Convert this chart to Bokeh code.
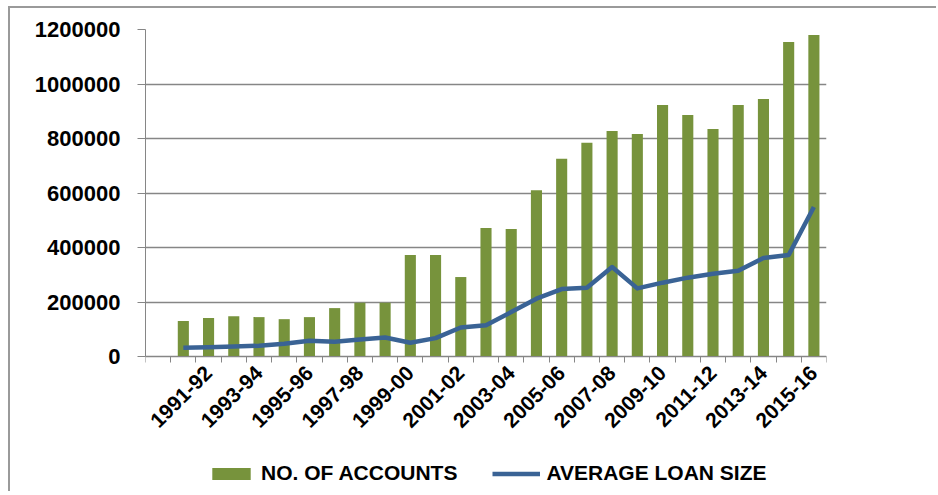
from math import pi
import numpy as np
from bokeh.plotting import figure
from bokeh.models import Range1d, FixedTicker, Legend, LegendItem, NumeralTickFormatter
from bokeh.embed import file_html
from bokeh.resources import INLINE

# ---- data ----
years = ["1990-91", "1991-92", "1992-93", "1993-94", "1994-95", "1995-96",
         "1996-97", "1997-98", "1998-99", "1999-00", "2000-01", "2001-02",
         "2002-03", "2003-04", "2004-05", "2005-06", "2006-07", "2007-08",
         "2008-09", "2009-10", "2010-11", "2011-12", "2012-13", "2013-14",
         "2014-15", "2015-16"]
accounts = [130000, 141000, 148000, 144500, 137000, 144500, 177600, 197400,
            197400, 372400, 372400, 291600, 471700, 468000, 610300, 725400,
            784200, 827200, 816200, 922800, 886000, 834600, 922800, 944900,
            1154400, 1180000]
avg_loan = [32000, 34200, 36800, 39300, 46700, 57700, 54000, 62500, 69900,
            50400, 67300, 106500, 115100, 162900, 212100, 247400, 252500,
            328300, 250000, 270900, 289300, 304000, 315000, 361400, 372400,
            548900]
y_ticks = [0, 200000, 400000, 600000, 800000, 1000000, 1200000]
tick_labels = years[1::2]

GREEN = "#77933C"
BLUE = "#3A6395"
GRID = "#868686"
FONT = "Liberation Sans"

# layout (pixels)
W, H = 928, 485
LEFT, RIGHT, TOP, BOTTOM = 135, 112, 21, 2
PLOT_PX = 327          # pixels from y=0 to the top tick
frame_h = H - TOP - BOTTOM
y_low = -y_ticks[-1] * (frame_h - PLOT_PX) / PLOT_PX

# one empty category slot before the first year
n_slots = len(years) + 1
x = np.arange(2, n_slots + 1)

p = figure(width=W, height=H, output_backend="svg", toolbar_location=None,
           x_range=Range1d(0.5, n_slots + 0.5), y_range=Range1d(y_low, y_ticks[-1]),
           min_border_left=LEFT, min_border_right=RIGHT, min_border_top=TOP,
           min_border_bottom=BOTTOM,
           styles={"margin-left": "8px", "margin-top": "6px",
                   "border-left": "2px solid #9A9A9A",
                   "border-top": "2px solid #9A9A9A"})
p.outline_line_color = None
p.background_fill_color = "white"
p.border_fill_color = "white"

r_bar = p.vbar(x=x, top=accounts, width=0.44, fill_color=GREEN, line_color=None)
r_line = p.line(x, avg_loan, line_width=4.5, line_color=BLUE, line_join="round")

# y axis
p.yaxis.ticker = FixedTicker(ticks=y_ticks)
p.yaxis.bounds = (y_ticks[0], y_ticks[-1])
p.yaxis.formatter = NumeralTickFormatter(format="0")
p.yaxis.major_label_text_font = FONT
p.yaxis.major_label_text_font_style = "bold"
p.yaxis.major_label_text_font_size = "22px"
p.yaxis.major_label_text_color = "black"
p.yaxis.major_tick_out = 8
p.yaxis.major_tick_in = 0
p.yaxis.minor_tick_line_color = None
p.yaxis.major_label_standoff = 17
p.yaxis.axis_line_color = GRID
p.yaxis.major_tick_line_color = GRID

# x axis drawn at y = 0: tick marks on category boundaries, labels on every other category
label_pos = [x[i] for i in range(1, len(years), 2)]
boundaries = [b + 0.5 for b in range(0, n_slots + 1)]
p.xaxis.fixed_location = 0
p.xaxis.ticker = FixedTicker(ticks=label_pos, minor_ticks=boundaries)
p.xaxis.major_label_overrides = {int(v): t for v, t in zip(label_pos, tick_labels)}
p.xaxis.major_label_orientation = pi / 4
p.xaxis.major_label_text_font = FONT
p.xaxis.major_label_text_font_style = "bold"
p.xaxis.major_label_text_font_size = "21px"
p.xaxis.major_label_text_color = "black"
p.xaxis.major_tick_out = 0
p.xaxis.major_tick_in = 0
p.xaxis.minor_tick_out = 6
p.xaxis.minor_tick_in = 0
p.xaxis.minor_tick_line_color = GRID
p.xaxis.axis_line_color = GRID
p.xaxis.major_label_standoff = 7

p.xgrid.grid_line_color = None
p.ygrid.ticker = FixedTicker(ticks=y_ticks)
p.ygrid.grid_line_color = GRID
p.ygrid.grid_line_width = 1.5

legend = Legend(items=[LegendItem(label="NO. OF ACCOUNTS", renderers=[r_bar]),
                       LegendItem(label="AVERAGE LOAN SIZE", renderers=[r_line])],
                location=(62, 6), orientation="horizontal",
                glyph_width=48, glyph_height=15, label_standoff=6, spacing=35,
                padding=0, margin=0, border_line_color=None,
                background_fill_alpha=0,
                label_text_font=FONT, label_text_font_style="bold",
                label_text_font_size="21px", label_text_color="black")
p.add_layout(legend, "center")

open("out.html", "w").write(file_html(p, INLINE))
